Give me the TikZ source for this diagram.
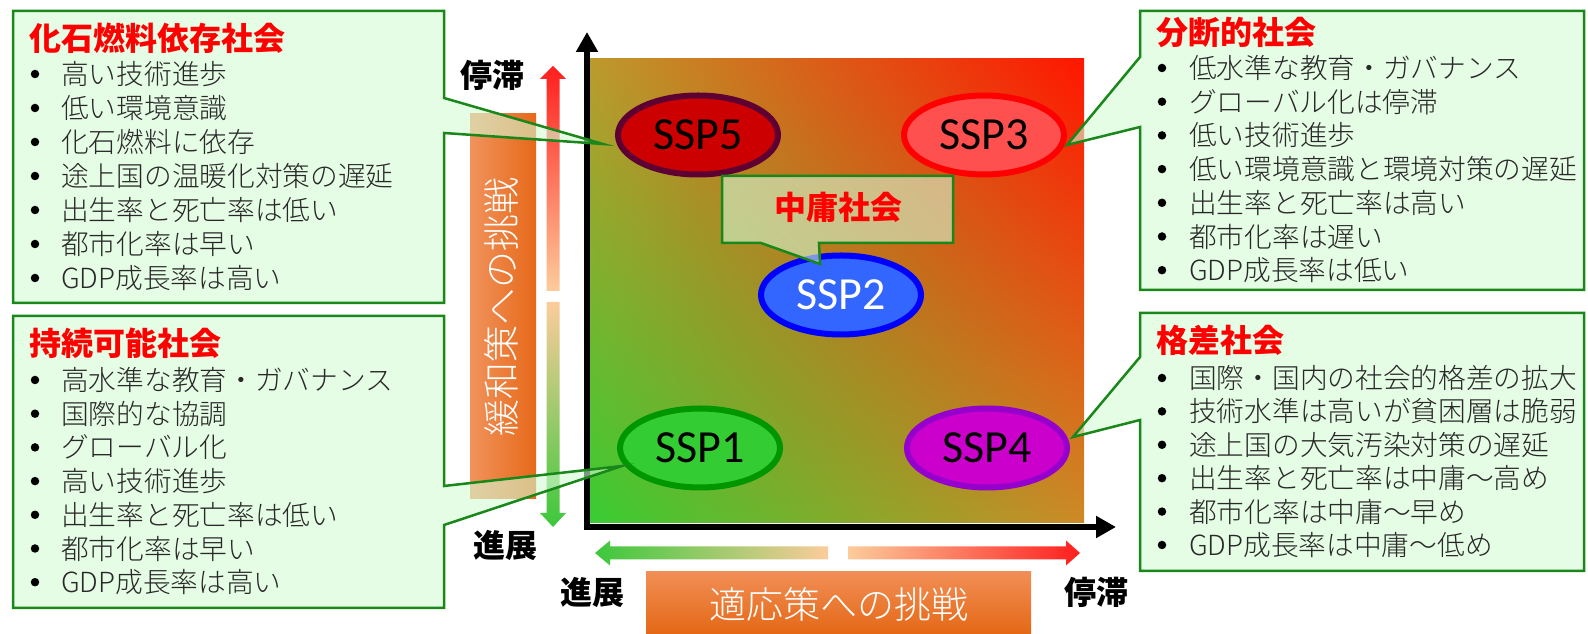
\documentclass[tikz,border=0pt]{standalone}
\usepackage{fontspec}
\setmainfont{Noto Sans CJK JP}
\IfFontExistsTF{Noto Sans CJK JP Light}{\newfontfamily\lightjp{Noto Sans CJK JP Light}}{\newfontfamily\lightjp{Noto Sans CJK JP}}
\newfontfamily\sspfont{Carlito}
\usetikzlibrary{arrows.meta,shapes.geometric,shadings}
\definecolor{cborder}{RGB}{25,135,25}
\definecolor{cfill}{RGB}{212,250,212}
\definecolor{tred}{RGB}{255,0,0}
\definecolor{ctext}{RGB}{40,40,40}
\definecolor{peach}{RGB}{252,204,155}
\definecolor{agreen}{RGB}{60,200,60}
\definecolor{ared}{RGB}{255,30,30}
\definecolor{gUL}{RGB}{188,155,45}
\definecolor{gUR}{RGB}{255,22,0}
\definecolor{gLL}{RGB}{55,205,50}
\definecolor{gLR}{RGB}{205,138,38}
\definecolor{barL}{RGB}{241,147,92}
\definecolor{barR}{RGB}{230,105,25}
\definecolor{boxT}{RGB}{241,142,85}
\definecolor{boxM}{RGB}{242,124,45}
\definecolor{boxB}{RGB}{228,104,22}
\definecolor{f5}{RGB}{204,0,0}\definecolor{d5}{RGB}{95,0,50}
\definecolor{f3}{RGB}{255,80,80}\definecolor{d3}{RGB}{255,0,0}
\definecolor{f2}{RGB}{51,102,255}\definecolor{d2}{RGB}{0,0,255}
\definecolor{f1}{RGB}{51,204,51}\definecolor{d1}{RGB}{0,150,0}
\definecolor{f4}{RGB}{204,0,204}\definecolor{d4}{RGB}{150,0,204}
\begin{document}
\begin{tikzpicture}[x=1pt,y=1pt,
  callout/.style={draw=cborder, line width=2.5pt, fill=cfill, fill opacity=0.6, line join=miter},
  title/.style={anchor=west, inner sep=0pt, text=tred, font=\fontsize{32}{32}\selectfont\bfseries, text height=28.2pt, text depth=3.8pt},
  item/.style={anchor=west, inner sep=0pt, text=ctext, font=\lightjp\fontsize{27.7}{27.7}\selectfont, text height=24.4pt, text depth=3.3pt},
  bul/.style={circle, fill=black, inner sep=0pt, minimum size=8.5pt},
  ell/.style={ellipse, minimum width=160pt, minimum height=79pt, inner sep=0pt, line width=6pt, font=\sspfont\fontsize{46}{46}\selectfont},
  axislbl/.style={inner sep=0pt, text=black, font=\fontsize{32}{32}\selectfont\bfseries},
  whitelbl/.style={inner sep=0pt, text=white, font=\lightjp\fontsize{37}{37}\selectfont}
]
\useasboundingbox (0,0) rectangle (1588,634);

% main gradient field
\shade[upper left=gUL, upper right=gUR, lower left=gLL, lower right=gLR]
  (586,111) rectangle (1084,575);

% vertical orange bar (mitigation)
\shade[left color=barL, right color=barR] (470,135) rectangle (536,520);
\node[whitelbl, rotate=90] (mitig) at (501,327) {緩和策への挑戦};

% vertical gradient arrows
\shade[top color=ared, bottom color=peach]
  (546.5,343) -- (546.5,555) -- (540,555) -- (553,568) -- (566,555) -- (559.5,555) -- (559.5,343) -- cycle;
\shade[top color=peach, bottom color=agreen]
  (546.5,332) -- (546.5,121) -- (540,121) -- (553,107) -- (566,121) -- (559.5,121) -- (559.5,332) -- cycle;

% horizontal gradient arrows
\shade[left color=agreen, right color=peach]
  (595,81) -- (610,93.5) -- (610,87.5) -- (828,87.5) -- (828,74.5) -- (610,74.5) -- (610,68.5) -- cycle;
\shade[left color=peach, right color=ared]
  (848,87.5) -- (1066,87.5) -- (1066,93.5) -- (1080,81) -- (1066,68.5) -- (1066,74.5) -- (848,74.5) -- cycle;

% bottom orange box (adaptation)
\shade[top color=boxT, middle color=boxM, bottom color=boxB] (646,62) rectangle (1031,0);
\node[whitelbl] (adapt) at (839,30) {適応策への挑戦};

% axes
\coordinate (ytip) at (587,602);
\coordinate (orig) at (587,107);
\coordinate (xtip) at (1116,107);
\draw[line width=6pt, line join=miter, {Triangle[length=20pt,width=21pt]}-{Triangle[length=20pt,width=21pt]}]
  (ytip) -- (orig) -- (xtip);

% axis labels
\node[axislbl] (stopV) at (492,559) {停滞};
\node[axislbl] (progV) at (505,89) {進展};
\node[axislbl] (progH) at (592,42) {進展};
\node[axislbl] (stopH) at (1096,42) {停滞};

% SSP ellipses
\node[ell, fill=f5, draw=d5] (s5) at (698,499) {SSP5};
\node[ell, fill=f3, draw=d3] (s3) at (984,499) {SSP3};
\node[ell, fill=f2, draw=d2, text=white] (s2) at (841,339) {SSP2};
\node[ell, fill=f1, draw=d1] (s1) at (700,186) {SSP1};
\node[ell, fill=f4, draw=d4] (s4) at (987,186) {SSP4};

% middle callout
\coordinate (mtip) at (820,370);
\draw[callout] (722,458) -- (953,458) -- (953,391) -- (819,391) -- (mtip) -- (761,391) -- (722,391) -- cycle;
\node[title, anchor=center] (mtitle) at (838,427) {中庸社会};

% callout 1 (top-left)
\coordinate (t1) at (603,490);
\draw[callout] (13,623) -- (444,623) -- (444,536) -- (t1) -- (444,501) -- (444,331) -- (13,331) -- cycle;
\node[title] (c1t) at (29,596) {化石燃料依存社会};
\foreach \t [count=\i] in {高い技術進歩,低い環境意識,化石燃料に依存,途上国の温暖化対策の遅延,出生率と死亡率は低い,都市化率は早い,GDP成長率は高い}{
  \node[item] (c1i\i) at (61,{560-34*(\i-1)}) {\t};
  \node[bul] (c1b\i) at (35,{560-34*(\i-1)}) {};
}

% callout 2 (bottom-left)
\coordinate (t2) at (622,168);
\draw[callout] (13,318) -- (444,318) -- (444,148) -- (t2) -- (444,109) -- (444,26) -- (13,26) -- cycle;
\node[title] (c2t) at (29,291) {持続可能社会};
\foreach \t [count=\i] in {高水準な教育・ガバナンス,国際的な協調,グローバル化,高い技術進歩,出生率と死亡率は低い,都市化率は早い,GDP成長率は高い}{
  \node[item] (c2i\i) at (61,{254-33.7*(\i-1)}) {\t};
  \node[bul] (c2b\i) at (35,{254-33.7*(\i-1)}) {};
}

% callout 3 (top-right)
\coordinate (t3) at (1067,489);
\draw[callout] (1140,623) -- (1584,623) -- (1584,344) -- (1140,344) -- (1140,507) -- (t3) -- (1140,577) -- cycle;
\node[title] (c3t) at (1156,602) {分断的社会};
\foreach \t [count=\i] in {低水準な教育・ガバナンス,グローバル化は停滞,低い技術進歩,低い環境意識と環境対策の遅延,出生率と死亡率は高い,都市化率は遅い,GDP成長率は低い}{
  \node[item] (c3i\i) at (1189,{566-33.7*(\i-1)}) {\t};
  \node[bul] (c3b\i) at (1162,{566-33.7*(\i-1)}) {};
}

% callout 4 (bottom-right)
\coordinate (t4) at (1073,197);
\draw[callout] (1140,321) -- (1584,321) -- (1584,63) -- (1140,63) -- (1140,214) -- (t4) -- (1140,277) -- cycle;
\node[title] (c4t) at (1156,294) {格差社会};
\foreach \t [count=\i] in {国際・国内の社会的格差の拡大,技術水準は高いが貧困層は脆弱,途上国の大気汚染対策の遅延,出生率と死亡率は中庸〜高め,都市化率は中庸〜早め,GDP成長率は中庸〜低め}{
  \node[item] (c4i\i) at (1189,{256-33.4*(\i-1)}) {\t};
  \node[bul] (c4b\i) at (1162,{256-33.4*(\i-1)}) {};
}
\end{tikzpicture}
\end{document}
